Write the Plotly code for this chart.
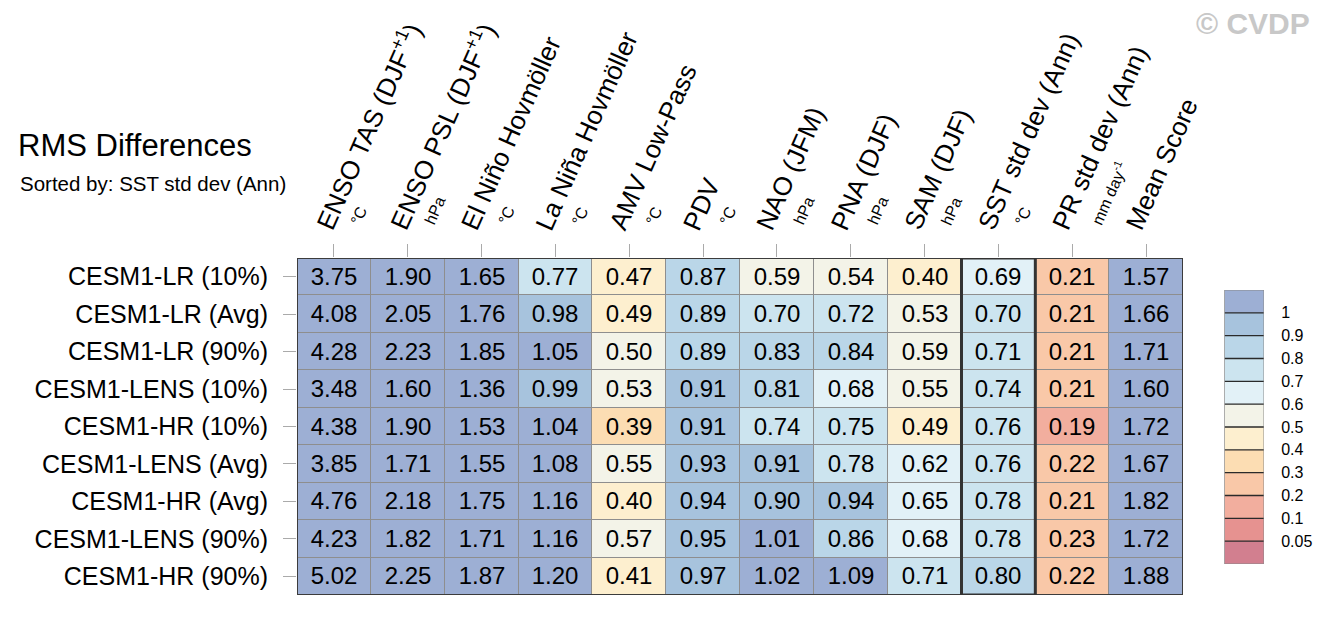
import plotly.graph_objects as go

# ---------------- data ----------------
columns = ["ENSO TAS (DJF<sup>+1</sup>)", "ENSO PSL (DJF<sup>+1</sup>)", "El Niño Hovmöller",
           "La Niña Hovmöller", "AMV Low-Pass", "PDV", "NAO (JFM)", "PNA (DJF)",
           "SAM (DJF)", "SST std dev (Ann)", "PR std dev (Ann)", "Mean Score"]
units = ["°C", "hPa", "°C", "°C", "°C", "°C", "hPa", "hPa", "hPa", "°C", "mm day<sup>-1</sup>", ""]
rows = ["CESM1-LR (10%)", "CESM1-LR (Avg)", "CESM1-LR (90%)", "CESM1-LENS (10%)",
        "CESM1-HR (10%)", "CESM1-LENS (Avg)", "CESM1-HR (Avg)", "CESM1-LENS (90%)",
        "CESM1-HR (90%)"]
values = [
    [3.75, 1.90, 1.65, 0.77, 0.47, 0.87, 0.59, 0.54, 0.40, 0.69, 0.21, 1.57],
    [4.08, 2.05, 1.76, 0.98, 0.49, 0.89, 0.70, 0.72, 0.53, 0.70, 0.21, 1.66],
    [4.28, 2.23, 1.85, 1.05, 0.50, 0.89, 0.83, 0.84, 0.59, 0.71, 0.21, 1.71],
    [3.48, 1.60, 1.36, 0.99, 0.53, 0.91, 0.81, 0.68, 0.55, 0.74, 0.21, 1.60],
    [4.38, 1.90, 1.53, 1.04, 0.39, 0.91, 0.74, 0.75, 0.49, 0.76, 0.19, 1.72],
    [3.85, 1.71, 1.55, 1.08, 0.55, 0.93, 0.91, 0.78, 0.62, 0.76, 0.22, 1.67],
    [4.76, 2.18, 1.75, 1.16, 0.40, 0.94, 0.90, 0.94, 0.65, 0.78, 0.21, 1.82],
    [4.23, 1.82, 1.71, 1.16, 0.57, 0.95, 1.01, 0.86, 0.68, 0.78, 0.23, 1.72],
    [5.02, 2.25, 1.87, 1.20, 0.41, 0.97, 1.02, 1.09, 0.71, 0.80, 0.22, 1.88],
]
bin_edges = [0.05, 0.1, 0.2, 0.3, 0.4, 0.5, 0.6, 0.7, 0.8, 0.9, 1.0]
edge_labels = ["0.05", "0.1", "0.2", "0.3", "0.4", "0.5", "0.6", "0.7", "0.8", "0.9", "1"]
bin_colors = ["#D27F8F", "#E69290", "#F2AE9E", "#F9C8A8", "#FCDDB3", "#FDEFCF",
              "#F3F3E8", "#E2F1F7", "#CCE4EF", "#BAD6E8", "#A7C3DD", "#9DAFD4"]
highlight_col = 9

# ---------------- helpers ----------------
def bin_index(v):
    return sum(1 for e in bin_edges if v >= e - 1e-9)

nb = len(bin_colors)
colorscale = []
for k, c in enumerate(bin_colors):
    colorscale.append([k / nb, c])
    colorscale.append([(k + 1) / nb, c])

zidx = [[bin_index(v) for v in r] for r in values]
txt = [[f"{v:.2f}" for v in r] for r in values]

# page has an 8px body margin: figure is sized to fit the 1330x617 window
OFF = 8
W, H = 1330 - OFF, 617 - OFF


def px(x):
    return (x - OFF) / W


def py(y):
    return 1 - (y - OFF) / H


FONT = "Liberation Sans, Arial, Helvetica, sans-serif"

fig = go.Figure()
fig.add_trace(go.Heatmap(
    z=zidx, x=list(range(len(columns))), y=list(range(len(rows))),
    text=txt, texttemplate="%{text}", textfont=dict(size=24, color="black", family=FONT),
    colorscale=colorscale, zmin=-0.5, zmax=nb - 0.5, showscale=False,
    xgap=1, ygap=1, hoverinfo="skip", xaxis="x", yaxis="y"))

# colorbar as its own heatmap
fig.add_trace(go.Heatmap(
    z=[[k] for k in range(nb)], x=[0], y=list(range(nb)),
    colorscale=colorscale, zmin=-0.5, zmax=nb - 0.5, showscale=False,
    hoverinfo="skip", xaxis="x2", yaxis="y2"))
sx, sy = [], []
for k in range(len(bin_edges)):
    sx += [-0.5, 0.5, None]
    sy += [k + 0.5, k + 0.5, None]
fig.add_trace(go.Scatter(x=sx, y=sy, mode="lines", line=dict(color="#2a2a2a", width=1.3),
                         hoverinfo="skip", showlegend=False, xaxis="x2", yaxis="y2"))

fig.update_layout(
    width=W, height=H, margin=dict(l=0, r=0, t=0, b=0),
    paper_bgcolor="white", plot_bgcolor="#8e8e8e",
    font=dict(family=FONT, color="black"),
    showlegend=False,
    xaxis=dict(domain=[px(297), px(1183)], range=[-0.5, len(columns) - 0.5], side="top",
               tickvals=list(range(len(columns))), showticklabels=False,
               ticks="outside", ticklen=13, tickcolor="#aaaaaa", tickwidth=1,
               showgrid=False, zeroline=False, showline=False, fixedrange=True),
    yaxis=dict(domain=[py(595), py(258)], range=[len(rows) - 0.5, -0.5],
               tickvals=list(range(len(rows))), ticktext=rows,
               tickfont=dict(size=25, family=FONT, color="black"),
               ticks="outside", ticklen=13, tickcolor="#aaaaaa", tickwidth=1,
               ticklabelstandoff=10,
               showgrid=False, zeroline=False, showline=False, fixedrange=True),
    xaxis2=dict(domain=[px(1224.5), px(1264)], range=[-0.5, 0.5], visible=False,
                anchor="y2", fixedrange=True),
    yaxis2=dict(domain=[py(564), py(290)], range=[-0.5, nb - 0.5], anchor="x2",
                side="right", tickvals=[k + 0.5 for k in range(len(bin_edges))],
                ticktext=edge_labels, tickfont=dict(size=16, family=FONT, color="black"),
                ticks="outside", ticklen=13, tickcolor="rgba(0,0,0,0)",
                showgrid=False, zeroline=False, showline=False, fixedrange=True),
)

shapes = [
    dict(type="rect", xref="x", yref="y", x0=-0.5, x1=len(columns) - 0.5,
         y0=-0.5, y1=len(rows) - 0.5, line=dict(color="#3c3c3c", width=2)),
    dict(type="rect", xref="x", yref="y", x0=highlight_col - 0.5, x1=highlight_col + 0.5,
         y0=-0.5, y1=len(rows) - 0.5, line=dict(color="#333333", width=3)),
    dict(type="rect", xref="x2", yref="y2", x0=-0.5, x1=0.5, y0=-0.5, y1=nb - 0.5,
         line=dict(color="#8a8a8a", width=1)),
]
fig.update_layout(shapes=shapes)

ann = []
for i, (c, u) in enumerate(zip(columns, units)):
    ann.append(dict(x=i, y=py(237), xref="x", yref="paper", text=c, showarrow=False,
                    textangle=-66, xanchor="left", yanchor="bottom", xshift=-29,
                    font=dict(size=26, family=FONT, color="black")))
    if u:
        ann.append(dict(x=i, y=py(230), xref="x", yref="paper", text=u, showarrow=False,
                        textangle=-66, xanchor="left", yanchor="bottom", xshift=11,
                        font=dict(size=16, family=FONT, color="black")))
ann.append(dict(x=px(16), y=py(146), xref="paper", yref="paper", text="RMS Differences",
                showarrow=False, xanchor="left", yanchor="middle",
                font=dict(size=31, family=FONT, color="black")))
ann.append(dict(x=px(18), y=py(183), xref="paper", yref="paper",
                text="Sorted by: SST std dev (Ann)", showarrow=False,
                xanchor="left", yanchor="middle", font=dict(size=20.5, family=FONT, color="black")))
ann.append(dict(x=px(1312), y=py(24), xref="paper", yref="paper", text="<b>© CVDP</b>",
                showarrow=False, xanchor="right", yanchor="middle",
                font=dict(size=30, family=FONT, color="#c8c8c8")))
fig.update_layout(annotations=ann)

fig.write_html("out.html")
